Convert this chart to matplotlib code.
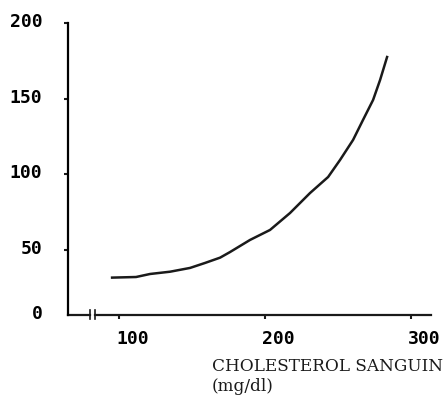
import matplotlib
matplotlib.use('Agg')
import matplotlib.pyplot as plt
import matplotlib.transforms as mtrans

# Cholesterol (mg/dl) vs relative value
chol = [95.2, 111.6, 121.2, 134.9, 148.6, 158.9, 169.2, 176.0, 189.7, 203.4,
        217.1, 230.8, 243.2, 251.4, 260.3, 267.1, 274.0, 278.8, 283.6]
risk = [31.7, 32.1, 34.1, 35.6, 38.1, 41.4, 44.9, 48.6, 56.6, 63.2,
        74.4, 87.6, 98.2, 109.5, 122.7, 135.9, 149.1, 162.3, 177.5]

x_ticks = [100, 200, 300]
y_ticks = [50, 100, 150, 200]
x_label = "CHOLESTEROL SANGUIN\n(mg/dl)"

XMIN, XMAX = 65, 313.7
YMIN, YMAX = 7, 200

fig = plt.figure(figsize=(4.46, 4.01), dpi=100)
ax = fig.add_axes([0.1525, 0.2145, 0.8139, 0.7282])

ax.plot(chol, risk, color='#1a1a1a', lw=1.8, solid_joinstyle='round')

ax.set_xlim(XMIN, XMAX)
ax.set_ylim(YMIN, YMAX)

for s in ['top', 'right', 'bottom']:
    ax.spines[s].set_visible(False)
ax.spines['left'].set_linewidth(1.6)

# x axis drawn by hand so there is room for the break mark
xf = lambda px: (px - 68) / (431 - 68)
ax.plot([0, xf(90)], [0, 0], transform=ax.transAxes, color='#1a1a1a', lw=1.6, clip_on=False)
ax.plot([xf(95), 1], [0, 0], transform=ax.transAxes, color='#1a1a1a', lw=1.6, clip_on=False)
for bx in [xf(90), xf(95)]:
    ax.plot([bx, bx], [-0.014, 0.016], transform=ax.transAxes, color='#1a1a1a', lw=1.2, clip_on=False)

mono = dict(family='DejaVu Sans Mono', weight='bold', size=13)
ax.set_yticks([YMIN] + y_ticks)
ax.set_yticklabels(['0'] + [str(v) for v in y_ticks], fontdict=mono)
ax.set_xticks(x_ticks)
ax.set_xticklabels([str(v) for v in x_ticks], fontdict=mono, ha='left')
ax.tick_params(axis='y', length=3, width=1.5, pad=15.5, color='#1a1a1a')
ax.tick_params(axis='x', length=3, width=1.5, pad=8, color='#1a1a1a')
ax.yaxis.get_major_ticks()[0].tick1line.set_visible(False)
off = mtrans.ScaledTranslation(-3 / 100, 0, fig.dpi_scale_trans)
for lab in ax.get_xticklabels():
    lab.set_transform(lab.get_transform() + off)
up = mtrans.ScaledTranslation(0, 3 / 100, fig.dpi_scale_trans)
for lab in ax.get_yticklabels():
    lab.set_transform(lab.get_transform() + up)

fig.text(212 / 446, 1 - 358 / 401, x_label, family='DejaVu Serif', size=12.2,
         ha='left', va='top', linespacing=1.2, color='#1a1a1a')

fig.savefig('out.png', dpi=100)
